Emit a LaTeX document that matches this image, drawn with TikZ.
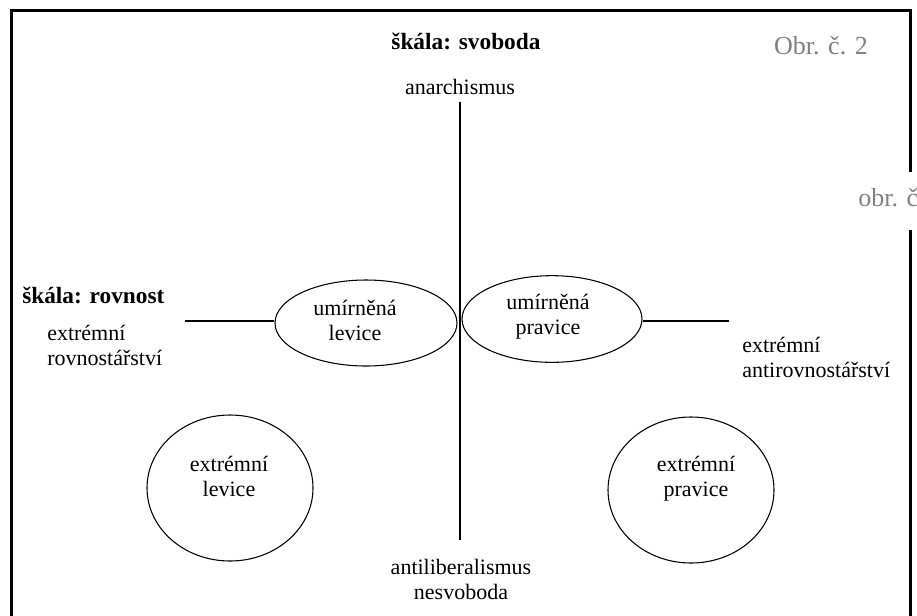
\documentclass[tikz,border=0pt]{standalone}
\usepackage{fontspec}
\setmainfont{Liberation Serif}
\usetikzlibrary{shapes.geometric}
\definecolor{capgray}{RGB}{128,128,128}
\tikzset{
  txt/.style={inner sep=0pt, align=center, font=\fontsize{16.5}{18.75}\selectfont},
  ltxt/.style={inner sep=0pt, align=left, font=\fontsize{16.5}{18.75}\selectfont},
  head/.style={inner sep=0pt, font=\fontsize{17.5}{20}\selectfont\bfseries},
  captxt/.style={inner sep=0pt, text=capgray, font=\fontsize{19.5}{22}\selectfont},
  ell/.style={draw, ellipse, line width=0.8pt, inner sep=0pt},
  axisline/.style={line width=0.8pt},
  frameline/.style={line width=2.25pt}
}
\begin{document}
\begin{tikzpicture}[x=0.75pt,y=-0.75pt]
\useasboundingbox (0,0) rectangle (917,615);
% frame
\draw[frameline] (910.5,172) -- (910.5,10.5) -- (11.5,10.5) -- (11.5,616);
\draw[frameline] (910.5,230) -- (910.5,616);
% captions
\node[captxt] (obr) at (821,46) {Obr. č. 2};
\begin{scope}
\clip (0,0) rectangle (917,615);
\node[captxt, anchor=west] (obr2) at (858,198) {obr. č};
\end{scope}
% headings
\node[head] (hsvob) at (466,41) {škála: svoboda};
\node[head, anchor=west] (hrov) at (22,295) {škála: rovnost};
% axis labels
\node[txt] (anar) at (460,87) {anarchismus};
\node[txt] (anti) at (461,579) {antiliberalismus\\nesvoboda};
\node[ltxt, anchor=west] (exrov) at (47,345) {extrémní\\rovnostářství};
\node[ltxt, anchor=west] (exanti) at (742,357) {extrémní\\antirovnostářství};
% ellipses
\node[ell, minimum width=136.5pt, minimum height=64.5pt] (lev) at (366,323) {};
\node[txt] (levt) at (355,320) {umírněná\\levice};
\node[ell, minimum width=135pt, minimum height=65pt] (prav) at (552,319) {};
\node[txt] (pravt) at (548,317) {umírněná\\pravice};
\node[ell, minimum width=124.5pt, minimum height=109.5pt] (exlev) at (230,488) {};
\node[txt] (exlevt) at (229,476) {extrémní\\levice};
\node[ell, minimum width=124.5pt, minimum height=109.5pt] (exprav) at (691,490) {};
\node[txt] (expravt) at (696,479) {extrémní\\pravice};
% axes
\coordinate (vtop) at (460,102);
\coordinate (vbot) at (460,540);
\coordinate (hl) at (185,321);
\coordinate (hr) at (729,321);
\draw[axisline] (vtop) -- (vbot);
\draw[axisline] (hl) -- (hl -| lev.west);
\draw[axisline] (hr -| prav.east) -- (hr);
\end{tikzpicture}
\end{document}
